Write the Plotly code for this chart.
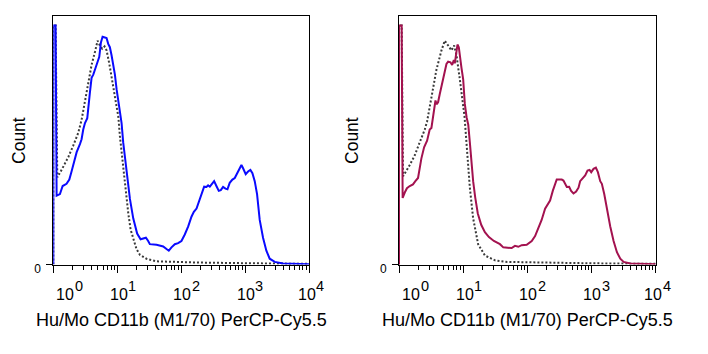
import math
import plotly.graph_objects as go

# ---------------- data ----------------
left_stained_x = [1, 1, 1.086, 1.127, 1.27, 1.40, 1.61, 1.78, 1.93, 2.10, 2.32, 2.61, 2.77, 2.94, 3.13,
                  3.40, 3.52, 3.74, 3.97, 4.22, 4.48, 4.75, 5.24, 5.56, 5.90, 6.41, 6.81, 7.23, 7.67,
                  8.15, 8.66, 9.20, 9.77, 10.4, 11.0, 11.7, 12.4, 13.2, 14.3, 15.8, 17.8, 20.5, 23.2,
                  25.5, 28.1, 30.5, 32.4, 41.2, 52.4, 59.0, 64.1, 70.6, 79.6, 89.7, 101, 114, 129,
                  145, 158, 174, 196, 213, 229, 249, 264, 281, 298, 328, 356, 388, 417, 453, 493,
                  530, 575, 634, 690, 750, 826, 877, 931, 1023, 1114, 1211, 1303, 1416, 1540, 1694,
                  1910, 2153, 2427, 2911, 3926, 9078, 10000]
left_stained_y = [0, 246.7, 246.7, 71, 72.7, 81, 83.3, 87.7, 96, 106, 116, 124.3, 129.3, 139.3, 146,
                  151, 164.3, 177.7, 192.7, 196, 201, 206, 214.3, 229.3, 235, 234.3, 233.7, 227.7,
                  224.3, 216, 207.7, 196, 181, 167.7, 161, 146, 126, 109.3, 89.3, 67.7, 47.7, 32, 26,
                  26.7, 27.7, 24.3, 21, 20.3, 18.7, 16, 14.3, 17.7, 21, 22, 24.3, 31, 39.3,
                  49.3, 54.3, 57.7, 67.7, 74.3, 80.3, 80, 81.7, 80.3, 82.7, 86, 81, 76, 76.7, 80, 78.3,
                  77.7, 84.3, 87.7, 89.3, 94.3, 100.3, 102.7, 99.3, 93.3, 96, 97.7, 94.3, 86, 72.7, 46,
                  27.7, 14.3, 6, 2.7, 1, 0.3, 0.3]

left_control_x = [1, 1, 1.086, 1.155, 1.35, 1.52, 1.72, 2.05, 2.46, 2.77, 3.13, 3.52, 3.97, 4.48, 4.93,
                  5.36, 5.83, 6.34, 6.81, 7.50, 8.45, 9.20, 9.77, 10.4, 11.0, 11.7, 12.4, 13.7, 14.9,
                  16.2, 17.8, 20.0, 22.6, 28.7, 41.2, 66.5, 196, 1183, 10000]
left_control_y = [0, 246.7, 246.7, 90, 97.7, 104.3, 111, 122.7, 136, 149.3, 167.7, 187.7, 206, 219.3, 231,
                  226, 222.7, 225, 221, 207.7, 187.7, 176, 167.7, 152.7, 132.7, 116, 96, 72.7, 52.7,
                  36, 26, 16, 10, 6, 3.3, 2.7, 2, 1.3, 0.7]

right_stained_x = [1, 1, 1.10, 1.14, 1.23, 1.33, 1.47, 1.65, 1.80, 1.98, 2.23, 2.46, 2.74, 3.01, 3.20,
                   3.40, 3.52, 3.70, 3.88, 4.07, 4.32, 4.59, 4.87, 5.17, 5.49, 5.83, 6.34, 6.73, 7.15,
                   7.41, 7.78, 8.15, 8.55, 8.87, 9.42, 10.0, 10.6, 11.3, 12.0, 12.7, 13.5, 14.3, 15.4,
                   16.9, 19.1, 21.8, 25.2, 30.1, 37.4, 42.2, 56.9, 64.1, 72.3, 81.5, 97.7, 117, 132,
                   149, 167, 189, 213, 226, 249, 271, 287, 344, 365, 412, 448, 481, 524, 575, 627,
                   665, 733, 796, 866, 931, 989, 1075, 1169, 1256, 1366, 1449, 1578, 1738, 1958,
                   2206, 2488, 2806, 3162, 4018, 9306, 10000]
right_stained_y = [0, 246.7, 246.7, 68.7, 74.3, 78.7, 81, 82.7, 86, 89.3, 109.3, 121, 127.7, 139.3, 141,
                   152.7, 164.3, 169.3, 165.3, 167.7, 176, 184.3, 192.7, 201, 207, 209.3, 208.7, 206, 211,
                   207.7, 217.7, 227, 224.3, 214.3, 202.7, 191, 166, 152, 144.3, 126, 104.3, 86, 69.3,
                   52.7, 41, 33.3, 28.3, 24.3, 21, 17.7, 17, 19.3, 18.3, 20, 20.3, 24.3, 29.3,
                   37.7, 46, 57.7, 64.3, 66, 76, 84.3, 87.7, 87.7, 86.7, 80, 80.3, 76, 73.3, 75.3, 79.3,
                   86, 89.3, 92, 97, 97.7, 95.3, 98.7, 100, 95.3, 86, 83.3, 72.7, 56, 39.3,
                   24.3, 12.7, 6, 2.7, 1, 0.3, 0.3]

right_control_x = [1, 1, 1.10, 1.155, 1.47, 1.76, 2.10, 2.52, 2.74, 3.20, 3.83, 4.59, 5.17, 5.83, 6.57,
                   7.23, 7.87, 8.87, 9.77, 10.5, 11.3, 12.7, 14.3, 17.1, 21.8, 31.3, 48.7, 143, 866, 10000]
right_control_y = [0, 246.7, 246.7, 91, 102.7, 112.7, 126, 139.3, 147.7, 174.3, 201, 221, 231, 226, 221,
                   226, 216, 191, 169.3, 152.7, 124.3, 79.3, 47.7, 21, 9.3, 4.3, 2.7, 2, 1.3, 0.7]

x_title = "Hu/Mo CD11b (M1/70) PerCP-Cy5.5"
y_title = "Count"
major_tick_values = [1, 10, 100, 1000, 10000]
tick_label_base = ["10", "10", "10", "10", "10"]
tick_label_exp = ["0", "1", "2", "3", "4"]
y_tick_values = [0]
y_tick_labels = ["0"]

# ---------------- styling / layout ----------------
W, H = 708, 354
FONT = "Liberation Sans, Arial, sans-serif"
STAINED_COLORS = ["#0a0aff", "#a3124f"]
CONTROL_COLOR = "#3a3a3a"
label_xshift = [12, 1.5, 1, 0.5, -2.5]

px_left = [53.3, 399.0]
px_right = [309.0, 655.7]
px_top, px_bottom = 17.0, 273.0

minor_vals = [m * 10 ** d for d in range(0, 4) for m in range(2, 10)]

fig = go.Figure()
panels = [
    (left_stained_x, left_stained_y, left_control_x, left_control_y),
    (right_stained_x, right_stained_y, right_control_x, right_control_y),
]
annotations = []
for i, (sx, sy, cx, cy) in enumerate(panels):
    xa = "x" if i == 0 else "x2"
    ya = "y" if i == 0 else "y2"
    fig.add_trace(go.Scatter(x=cx, y=cy, mode="lines", xaxis=xa, yaxis=ya,
                             line=dict(color=CONTROL_COLOR, width=2, dash="2px,2px"),
                             showlegend=False, hoverinfo="skip"))
    fig.add_trace(go.Scatter(x=sx, y=sy, mode="lines", xaxis=xa, yaxis=ya,
                             line=dict(color=STAINED_COLORS[i], width=2),
                             showlegend=False, hoverinfo="skip"))
    dom = [px_left[i] / W, px_right[i] / W]
    axis_x = dict(type="log", range=[0, 4], domain=dom, anchor=ya,
                  showgrid=False, zeroline=False, showline=True, mirror=True,
                  linecolor="black", linewidth=1,
                  ticks="outside", ticklen=7, tickwidth=1, tickcolor="black",
                  tickmode="array", tickvals=major_tick_values, showticklabels=False,
                  minor=dict(tickmode="array", tickvals=minor_vals, ticks="outside",
                             ticklen=4, tickwidth=1, tickcolor="black"))
    axis_y = dict(range=[0, 256], domain=[(H - px_bottom) / H, (H - px_top) / H], anchor=xa,
                  showgrid=False, zeroline=False, showline=True, mirror=True,
                  linecolor="black", linewidth=1,
                  ticks="outside", ticklen=6, tickwidth=1, tickcolor="black",
                  tickmode="array", tickvals=y_tick_values, ticktext=y_tick_labels,
                  tickfont=dict(family=FONT, size=12, color="black"),
                  ticklabelshift=4, ticklabelstandoff=3)
    if i == 0:
        fig.update_layout(xaxis=axis_x, yaxis=axis_y)
    else:
        fig.update_layout(xaxis2=axis_x, yaxis2=axis_y)

    for k, v in enumerate(major_tick_values):
        annotations.append(dict(x=math.log10(v), xref=xa, y=(H - 304) / H, yref="paper",
                                text=tick_label_base[k], showarrow=False,
                                xanchor="center", yanchor="middle", xshift=label_xshift[k],
                                font=dict(family=FONT, size=16, color="black")))
        annotations.append(dict(x=math.log10(v), xref=xa, y=(H - 295) / H, yref="paper",
                                text=tick_label_exp[k], showarrow=False,
                                xanchor="left", yanchor="middle", xshift=label_xshift[k] + 7.5,
                                font=dict(family=FONT, size=14.5, color="black")))
    annotations.append(dict(x=(px_left[i] + px_right[i]) / 2 / W, xref="paper",
                            y=(H - 330) / H, yref="paper", text=x_title, showarrow=False,
                            xanchor="center", yanchor="middle",
                            font=dict(family=FONT, size=18, color="black")))
    count_x = [19, 352][i]
    annotations.append(dict(x=count_x / W, xref="paper", y=(H - 145.5) / H, yref="paper",
                            text=y_title, showarrow=False, textangle=-90,
                            xanchor="center", yanchor="middle",
                            font=dict(family=FONT, size=17.5, color="black")))

fig.update_layout(width=W, height=H, margin=dict(l=0, r=0, t=0, b=0),
                  paper_bgcolor="white", plot_bgcolor="white",
                  annotations=annotations, showlegend=False)

fig.write_html("out.html")
